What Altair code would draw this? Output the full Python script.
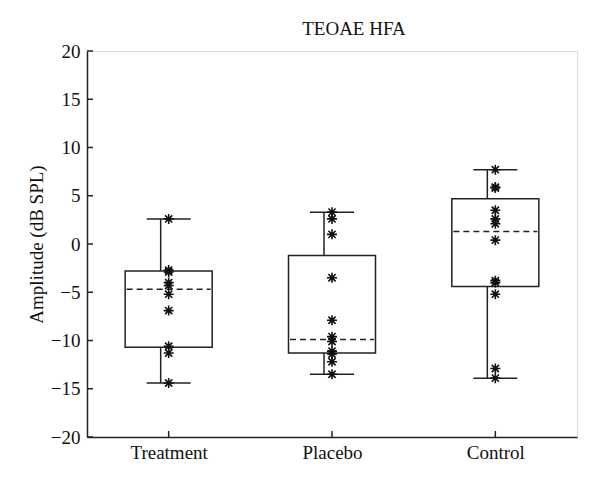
import altair as alt
import pandas as pd

groups = ["Treatment", "Placebo", "Control"]
treatment = [2.6, -2.7, -2.9, -4.0, -4.3, -5.2, -6.9, -10.6, -11.3, -14.4]
placebo = [3.3, 2.6, 1.0, -3.5, -7.9, -9.6, -10.1, -11.1, -11.4, -12.2, -13.5]
control = [7.7, 5.9, 5.8, 3.5, 2.6, 2.1, 0.4, -3.8, -4.0, -5.2, -12.9, -13.9]

box_q1 = [-10.7, -11.3, -4.4]
box_q3 = [-2.8, -1.2, 4.7]
box_mid = [-4.7, -9.9, 1.3]
whisk_lo = [-14.4, -13.5, -13.9]
whisk_hi = [2.6, 3.3, 7.7]

y_ticks = [-20, -15, -10, -5, 0, 5, 10, 15, 20]

W, H = 490, 386
INK = "#222222"
FONT = "Liberation Serif"
FS = 19

pts = pd.DataFrame(
    [{"group": g, "value": v} for g, vals in zip(groups, [treatment, placebo, control]) for v in vals]
)
stats = pd.DataFrame({
    "group": groups, "q1": box_q1, "q3": box_q3, "mid": box_mid,
    "lo": whisk_lo, "hi": whisk_hi,
})
ticks_df = pd.DataFrame({"t": y_ticks})
xt_df = pd.DataFrame({"group": groups})

xs = alt.Scale(type="point", domain=groups, padding=0.5)
ys = alt.Scale(domain=[-20, 20], nice=False, zero=False)

x_enc = alt.X("group:N", scale=xs, sort=groups,
              axis=alt.Axis(title=None, labelAngle=0, ticks=False, tickSize=0,
                            labelPadding=6, domainColor=INK, domainWidth=1.5,
                            labelFont=FONT, labelFontSize=FS, labelColor="#111111",
                            grid=False))
y_enc = alt.Y("q1:Q", scale=ys,
              axis=alt.Axis(title="Amplitude (dB SPL)", values=y_ticks, ticks=False, tickSize=0,
                            labelPadding=7, domainColor=INK, domainWidth=1.5,
                            labelFont=FONT, labelFontSize=FS, labelColor="#111111",
                            titleFont=FONT, titleFontSize=FS, titleFontWeight="normal",
                            titleColor="#111111", titlePadding=4, grid=False))

base = alt.Chart(stats)

boxes = base.mark_bar(size=87, fill="white", stroke=INK, strokeWidth=1.5).encode(
    x=x_enc, y=y_enc, y2="q3:Q")

whisk_up = base.mark_rule(color=INK, strokeWidth=1.5, xOffset=-8, x2Offset=-8).encode(
    x=alt.X("group:N", scale=xs, sort=groups), y=alt.Y("q3:Q", scale=ys), y2="hi:Q")
whisk_dn = base.mark_rule(color=INK, strokeWidth=1.5, xOffset=-8, x2Offset=-8).encode(
    x=alt.X("group:N", scale=xs, sort=groups), y=alt.Y("lo:Q", scale=ys), y2="q1:Q")

cap_hi = base.mark_rule(color=INK, strokeWidth=1.5, xOffset=-22, x2Offset=22).encode(
    x=alt.X("group:N", scale=xs, sort=groups), x2="group:N", y=alt.Y("hi:Q", scale=ys))
cap_lo = base.mark_rule(color=INK, strokeWidth=1.5, xOffset=-22, x2Offset=22).encode(
    x=alt.X("group:N", scale=xs, sort=groups), x2="group:N", y=alt.Y("lo:Q", scale=ys))

mid = base.mark_rule(color=INK, strokeWidth=1.5, strokeDash=[6, 4], xOffset=-42, x2Offset=42).encode(
    x=alt.X("group:N", scale=xs, sort=groups), x2="group:N", y=alt.Y("mid:Q", scale=ys))

star_path = "M-1,0L1,0M0,-1L0,1M-0.72,-0.72L0.72,0.72M-0.72,0.72L0.72,-0.72"
stars = alt.Chart(pts).mark_point(shape=star_path, size=100, filled=False, stroke="#111111",
                                  strokeWidth=1.6, opacity=1).encode(
    x=alt.X("group:N", scale=xs, sort=groups), y=alt.Y("value:Q", scale=ys))

ytick_marks = alt.Chart(ticks_df).mark_rule(color=INK, strokeWidth=1.5).encode(
    x=alt.value(0), x2=alt.value(6), y=alt.Y("t:Q", scale=ys))
xtick_marks = alt.Chart(xt_df).mark_rule(color=INK, strokeWidth=1.5).encode(
    x=alt.X("group:N", scale=xs, sort=groups), y=alt.value(H), y2=alt.value(H - 6))

chart = alt.layer(boxes, whisk_up, whisk_dn, cap_hi, cap_lo, mid, stars, ytick_marks, xtick_marks).properties(
    width=W, height=H,
    title=alt.TitleParams("TEOAE HFA", font=FONT, fontSize=FS, fontWeight="normal",
                          color="#111111", anchor="middle", offset=3, dx=22),
    autosize=alt.AutoSizeParams(type="none"),
    padding={"left": 79, "top": 43, "right": 10, "bottom": 30},
).configure_view(stroke=None).configure(background="white")

chart.save("out.html", embed_options={"renderer": "svg", "actions": False})
